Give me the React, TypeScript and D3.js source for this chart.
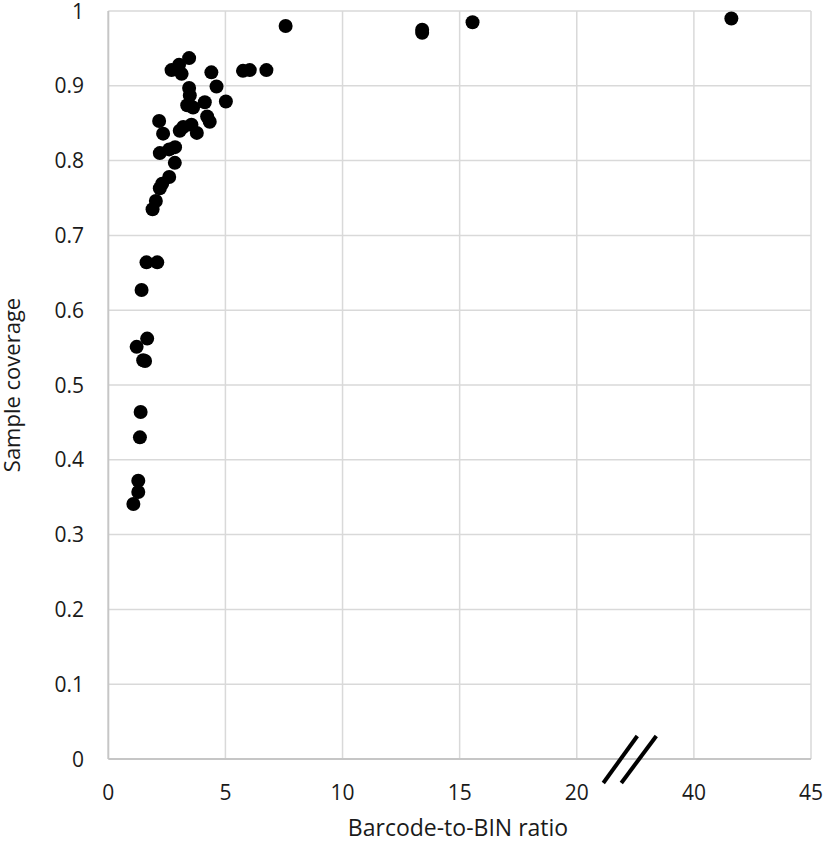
import React from "react";
import * as d3 from "d3";

const ratios: number[] = [
  1.07, 1.28, 1.28, 1.35, 1.38, 1.49, 1.57, 1.21, 1.66, 1.42,
  1.63, 2.09, 1.89, 2.03, 2.2, 2.3, 2.6, 2.84, 2.2, 2.6,
  2.85, 2.34, 2.17, 3.05, 3.2, 3.55, 3.78, 4.22, 4.33, 3.37,
  3.62, 4.12, 5.02, 3.45, 3.48, 4.62, 4.4, 2.7, 3.02, 3.13,
  3.45, 5.75, 6.04, 6.75, 7.57, 13.4, 13.4, 15.55, 41.6,
];
const coverage: number[] = [
  0.341, 0.357, 0.372, 0.43, 0.464, 0.533, 0.532, 0.551, 0.562, 0.627,
  0.664, 0.664, 0.735, 0.746, 0.763, 0.769, 0.778, 0.797, 0.81, 0.815,
  0.818, 0.836, 0.853, 0.84, 0.845, 0.848, 0.837, 0.859, 0.852, 0.874,
  0.871, 0.878, 0.879, 0.897, 0.887, 0.899, 0.918, 0.921, 0.928, 0.916,
  0.937, 0.92, 0.921, 0.921, 0.98, 0.975, 0.971, 0.985, 0.99,
];
const xTicks: number[] = [0, 5, 10, 15, 20, 40, 45];
const yTicks: number[] = [0, 0.1, 0.2, 0.3, 0.4, 0.5, 0.6, 0.7, 0.8, 0.9, 1];
const breakAt = 25; // axis jumps from 25 to 40
const breakGap = 15;

const W = 827;
const H = 841;
const left = 108.3;
const right = 811;
const top = 11;
const bottom = 759;

const pos = d3.scaleLinear().domain([0, 30]).range([left, right]);
const toPos = (v: number) => (v <= breakAt ? v : v - breakGap);
const x = (v: number) => pos(toPos(v));
const y = d3.scaleLinear().domain([0, 1]).range([bottom, top]);

const font = "'Open Sans', 'Noto Sans', sans-serif";

export default function App() {
  const bx = pos(22.2);
  const by = y(0);
  return (
    <div style={{ position: "absolute", left: 0, top: 0 }}>
      <svg width={W} height={H} style={{ display: "block", background: "#fff" }}>
        {/* gridlines */}
        {yTicks.slice(1).map((t) => (
          <line key={"gy" + t} x1={left} x2={right} y1={y(t)} y2={y(t)} stroke="#d9d9d9" strokeWidth={1.5} />
        ))}
        {xTicks.slice(1).map((t) => (
          <line key={"gx" + t} x1={x(t)} x2={x(t)} y1={top} y2={bottom} stroke="#d9d9d9" strokeWidth={1.5} />
        ))}
        {/* axes */}
        <line x1={left} x2={left} y1={top} y2={bottom} stroke="#c6c6c6" strokeWidth={2} />
        <line x1={left} x2={right} y1={bottom} y2={bottom} stroke="#c6c6c6" strokeWidth={2} />
        {/* tick labels */}
        {yTicks.map((t) => (
          <text key={"ly" + t} x={84} y={y(t)} dy="0.36em" textAnchor="end" fontFamily={font} fontSize={21} fill="#1a1a1a">
            {d3.format("~g")(t)}
          </text>
        ))}
        {xTicks.map((t) => (
          <text key={"lx" + t} x={x(t)} y={800} textAnchor="middle" fontFamily={font} fontSize={21} fill="#1a1a1a">
            {t}
          </text>
        ))}
        {/* axis break */}
        <line x1={bx - 25} y1={by + 24} x2={bx + 9} y2={by - 23} stroke="#000" strokeWidth={4} />
        <line x1={bx - 7} y1={by + 24} x2={bx + 28} y2={by - 23} stroke="#000" strokeWidth={4} />
        {/* points */}
        {ratios.map((r, i) => (
          <circle key={i} cx={x(r)} cy={y(coverage[i])} r={7} fill="#000" />
        ))}
        {/* axis titles */}
        <text x={458} y={836} textAnchor="middle" fontFamily={font} fontSize={23} fill="#1a1a1a">
          Barcode-to-BIN ratio
        </text>
        <text transform={`translate(20, ${y(0.5)}) rotate(-90)`} textAnchor="middle" fontFamily={font} fontSize={22} fill="#1a1a1a">
          Sample coverage
        </text>
      </svg>
    </div>
  );
}
